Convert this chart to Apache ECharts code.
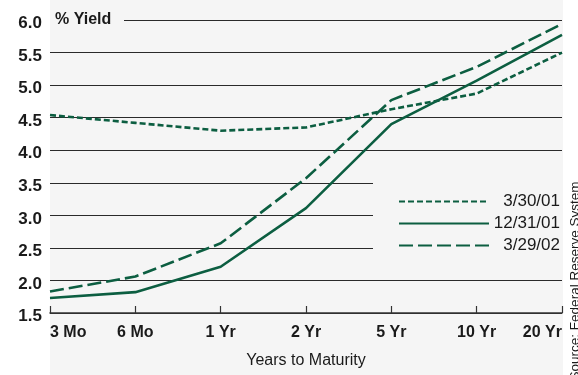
<!DOCTYPE html>
<html>
<head>
<meta charset="utf-8">
<script src="https://cdn.jsdelivr.net/npm/echarts@6/dist/echarts.min.js"></script>
<style>
  html, body { margin: 0; padding: 0; background: #ffffff; }
  #chart { width: 578px; height: 375px; }
</style>
</head>
<body>
<div id="chart"></div>
<script>
// Treasury yield curves at three dates
const maturities = ['3 Mo', '6 Mo', '1 Yr', '2 Yr', '5 Yr', '10 Yr', '20 Yr'];
const seriesNames = ['3/30/01', '12/31/01', '3/29/02'];
const yield_3_30_01 = [4.54, 4.42, 4.30, 4.35, 4.63, 4.87, 5.50];
const yield_12_31_01 = [1.73, 1.82, 2.21, 3.11, 4.40, 5.07, 5.77];
const yield_3_29_02 = [1.83, 2.06, 2.57, 3.57, 4.77, 5.28, 5.94];
const yTicks = [1.5, 2.0, 2.5, 3.0, 3.5, 4.0, 4.5, 5.0, 5.5, 6.0];

const FONT = '"Liberation Sans Narrow", "Arial Narrow", Arial, sans-serif';
const GREEN = '#0c5e41';
const PANEL = '#f5f5f5';
const INK = '#1a1a1a';

const chart = echarts.init(document.getElementById('chart'), null, { renderer: 'canvas' });

const lineTypes = [[6, 3], 'solid', [14, 5]];
const values = [yield_3_30_01, yield_12_31_01, yield_3_29_02];

const series = seriesNames.map((name, i) => ({
  name,
  type: 'line',
  data: values[i],
  symbol: 'none',
  showSymbol: false,
  z: 3,
  lineStyle: { color: GREEN, width: 2.6, type: lineTypes[i] },
  itemStyle: { color: GREEN }
}));

const legendTops = [188, 210, 232];
const legends = seriesNames.map((name, i) => ({
  data: [name],
  left: 393,
  top: legendTops[i],
  itemWidth: 90,
  itemHeight: 14,
  selectedMode: false,
  itemStyle: { opacity: 0 },
  formatter: '{t|{name}}',
  textStyle: {
    rich: {
      t: { width: 66, align: 'right', fontFamily: FONT, fontSize: 17, color: INK }
    }
  }
}));

chart.setOption({
  animation: false,
  backgroundColor: '#ffffff',
  grid: { left: 50, right: 16, top: 20, bottom: 62, containLabel: false },
  graphic: [
    // panel behind the plot
    { type: 'rect', z: -10, shape: { x: 50, y: 0, width: 513, height: 375 }, style: { fill: PANEL } },
    // clear the top gridline behind the unit label
    { type: 'rect', z: 1, shape: { x: 50, y: 12, width: 74, height: 16 }, style: { fill: PANEL } },
    // clear the gridlines behind the legend
    { type: 'rect', z: 1, shape: { x: 373, y: 170, width: 190, height: 90 }, style: { fill: PANEL } },
    {
      type: 'text', z: 5, left: 55, top: 12,
      style: { text: '% Yield', fontFamily: FONT, fontSize: 16, fontWeight: 'bold', fill: INK }
    },
    {
      type: 'text', z: 5, x: 575, y: 281, rotation: Math.PI / 2,
      style: {
        text: 'Source: Federal Reserve System', fontFamily: '"Liberation Sans", Arial, sans-serif',
        fontSize: 13.5, fill: INK, align: 'center', verticalAlign: 'middle'
      }
    }
  ],
  legend: legends,
  xAxis: {
    type: 'category',
    data: maturities,
    boundaryGap: false,
    name: 'Years to Maturity',
    nameLocation: 'middle',
    nameGap: 40,
    nameTextStyle: { fontFamily: FONT, fontSize: 16, color: INK },
    axisLine: { lineStyle: { color: '#333', width: 1.5 } },
    axisTick: { inside: true, length: 7, lineStyle: { color: '#333', width: 1.2 } },
    axisLabel: {
      margin: 12, fontFamily: FONT, fontSize: 16, fontWeight: 'bold', color: INK,
      alignMinLabel: 'left', alignMaxLabel: 'right'
    },
    splitLine: { show: false }
  },
  yAxis: {
    type: 'value',
    min: 1.5,
    max: 6.0,
    interval: 0.5,
    axisLine: { show: false },
    axisTick: { show: false },
    axisLabel: {
      margin: 8, fontFamily: FONT, fontSize: 17, fontWeight: 'bold', color: INK,
      verticalAlign: 'top',
      padding: [-5, 0, 0, 0],
      formatter: v => (yTicks.includes(v) ? v.toFixed(1) : '')
    },
    splitLine: { lineStyle: { color: '#2a2a2a', width: 1.2 } }
  },
  series
});
</script>
</body>
</html>
